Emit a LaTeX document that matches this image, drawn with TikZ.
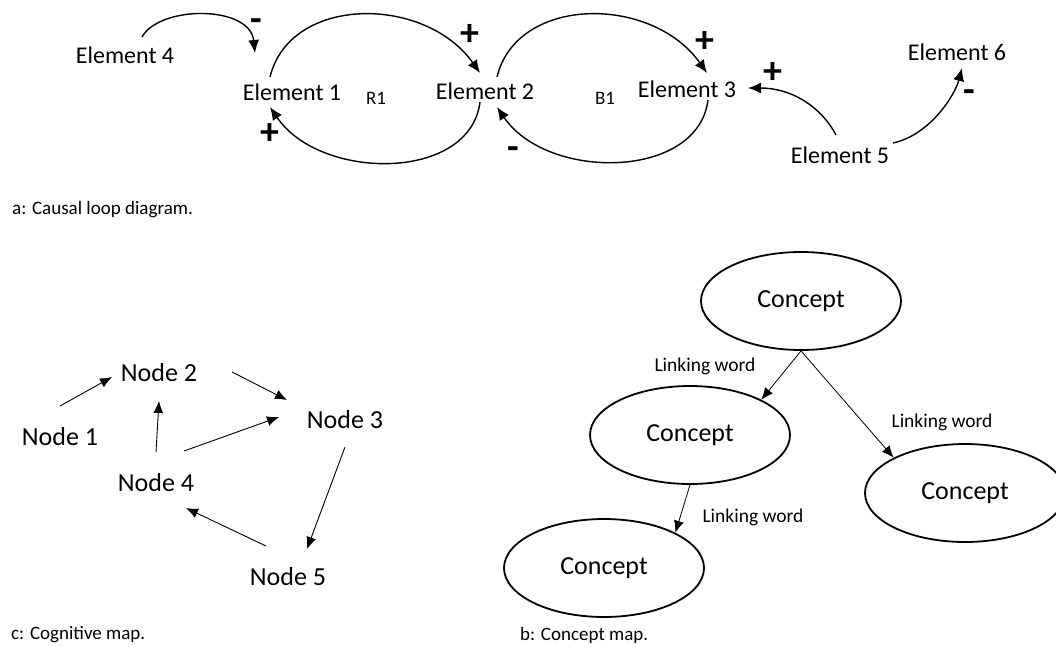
\documentclass[tikz,border=0pt]{standalone}
\usepackage{fontspec}
\setmainfont{Carlito}
\usetikzlibrary{arrows.meta,calc,shapes.geometric}
\tikzset{
  element/.style   = {font=\fontsize{24}{28}\selectfont, inner sep=2pt},
  looplabel/.style = {font=\fontsize{19}{22}\selectfont},
  polarity/.style  = {font=\bfseries\fontsize{38}{40}\selectfont,
                      inner sep=0pt},
  link/.style      = {line width=1.4pt,
                      -{Latex[length=13pt,width=11pt]}},
  mapnode/.style   = {font=\fontsize{26}{30}\selectfont},
  maparrow/.style  = {line width=0.9pt,
                      -{Latex[length=12pt,width=10pt]}},
  concept/.style   = {
    ellipse, draw,
    line width=1.8pt,
    minimum width=200pt, minimum height=98pt,
    inner sep=0pt,
    font=\fontsize{26}{30}\selectfont
    },
  relation/.style  = {line width=0.8pt,
                      -{Latex[length=12pt,width=10pt]}},
  linking/.style   = {font=\fontsize{19.5}{22}\selectfont},
  caption/.style   = {anchor=west, inner sep=0pt,
                      font=\fontsize{19}{22}\selectfont}
}

\begin{document}
\begin{tikzpicture}[x=1pt, y=-1pt]
    \useasboundingbox (0,0) rectangle (1056,646);
    \clip (0,0) rectangle (1056,646);

    % a: causal loop diagram
    \node [element] (e4) at (125,55) {Element 4};
    \node [element] (e1) at (292,92) {Element 1};
    \node [element] (e2) at (485,91) {Element 2};
    \node [element] (e3) at (687,89) {Element 3};
    \node [element] (e5) at (840,155) {Element 5};
    \node [element] (e6) at (957,52) {Element 6};
    \node [looplabel] (r1) at (376,98) {R1};
    \node [looplabel] (b1) at (605,98) {B1};

    \draw [link] ($(e4)+(17,-18)$) .. controls +(18,-32) and +(-5,-48) .. ($(e1)+(-37,-39)$);
    \draw [link] ($(e1)+(-22,-15)$) .. controls +(20,-82) and +(-55,-78) .. ($(e2)+(-5,-18)$);
    \draw [link] ($(e2)+(-5,11)$) .. controls +(-10,80) and +(50,74) .. ($(e1)+(-22,15)$);
    \draw [link] ($(e2)+(12,-14)$) .. controls +(20,-82) and +(-55,-78) .. ($(e3)+(20,-16)$);
    \draw [link] ($(e3)+(21,11)$) .. controls +(-10,80) and +(50,74) .. ($(e2)+(12,16)$);
    \draw [link] ($(e5)+(-4,-20)$) .. controls +(-16,-30) and +(42,0) .. ($(e3)+(61,-1)$);
    \draw [link] ($(e5)+(53,-12)$) .. controls +(37,-8) and +(-7,27) .. ($(e6)+(5,16)$);

    \node [polarity] (p41) at (256,25) {-};
    \node [polarity] (p12) at (470,35) {+};
    \node [polarity] (p21) at (270,134) {+};
    \node [polarity] (p32) at (513,153) {-};
    \node [polarity] (p23) at (705,42) {+};
    \node [polarity] (p53) at (773,73) {+};
    \node [polarity] (p56) at (969,96) {-};

    \node [caption] (capa) at (12,210) {a: Causal loop diagram.};

    % c: cognitive map
    \node [mapnode] (n1) at (60,437) {Node 1};
    \node [mapnode] (n2) at (159,373) {Node 2};
    \node [mapnode] (n3) at (345,420) {Node 3};
    \node [mapnode] (n4) at (156,483) {Node 4};
    \node [mapnode] (n5) at (288,577) {Node 5};

    \draw [maparrow] ($(n1)+(0,-31)$) -- ($(n2)+(-47,4)$);
    \draw [maparrow] ($(n2)+(73,-1)$) -- ($(n3)+(-58,-20)$);
    \draw [maparrow] ($(n4)+(0,-31)$) -- ($(n2)+(0,28)$);
    \draw [maparrow] ($(n4)+(28,-32)$) -- ($(n3)+(-66,-3)$);
    \draw [maparrow] ($(n3)+(0,27)$) -- ($(n5)+(19,-28)$);
    \draw [maparrow] ($(n5)+(-22,-31)$) -- ($(n4)+(30,25)$);

    \node [caption] (capc) at (11,635) {c: Cognitive map.};

    % b: concept map
    \node [concept] (c1) at (801,301) {Concept};
    \node [concept] (c2) at (690,435) {Concept};
    \node [concept] (c3) at (965,493) {Concept};
    \node [concept] (c4) at (604,568) {Concept};

    \draw [relation] (c1.south) -- (c2.north east);
    \draw [relation] (c1.south) -- (c3.north west);
    \draw [relation] (c2.south) -- (c4.north east);

    \node [linking] (w1) at (705,366) {Linking word};
    \node [linking] (w2) at (942,422) {Linking word};
    \node [linking] (w3) at (753,517) {Linking word};

    \node [caption] (capb) at (520,635) {b: Concept map.};
\end{tikzpicture}
\end{document}
